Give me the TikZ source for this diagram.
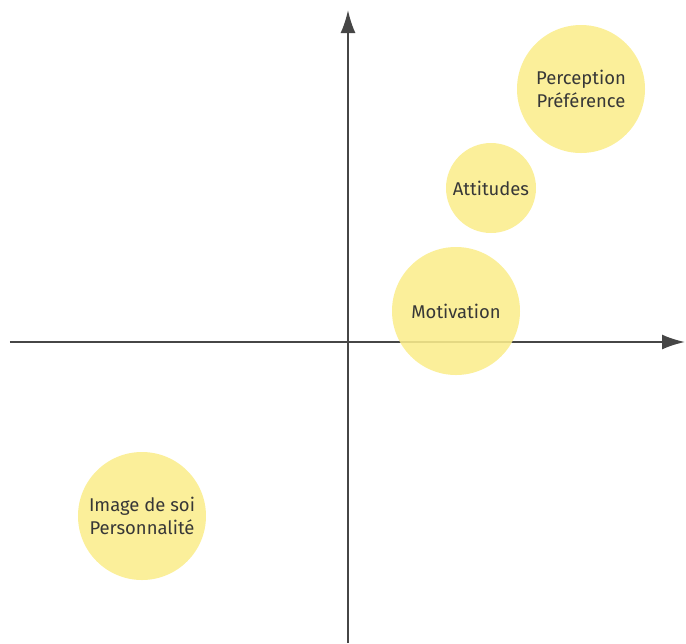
\documentclass[tikz,border=0pt]{standalone}
\usepackage{fontspec}
\setmainfont{Fira Sans}
\usepackage{tikz}
\usetikzlibrary{arrows.meta}

\definecolor{pale}{RGB}{250,237,140}
\definecolor{axisgray}{RGB}{70,70,70}
\definecolor{labelgray}{RGB}{55,55,55}

\tikzset{
  blob/.style={circle, fill=pale, fill opacity=0.88, text opacity=1,
    text=labelgray, align=center, inner sep=0pt,
    font=\fontsize{10.5}{13}\selectfont},
  axis/.style={draw=axisgray, line width=1.1pt,
    -{Latex[length=4.6mm,width=3mm]}}
}

\begin{document}
\begin{tikzpicture}[]
    \useasboundingbox (-6.96,-6.02) rectangle (6.76,6.84);
    % axis ends
    \coordinate (south) at (0,-6.02);
    \coordinate (north) at (0,6.64);
    \coordinate (west) at (-6.76,0);
    \coordinate (east) at (6.74,0);
    %axis
    \draw[axis] (south) -- (north);
    \draw[axis] (west) -- (east);
    % circles
    \node[blob, minimum size=2.56cm] (percep) at (4.66,5.06) {Perception\\Préférence};
    \node[blob, minimum size=1.8cm] (attit) at (2.86,3.08) {Attitudes};
    \node[blob, minimum size=2.56cm] (motiv) at (2.16,0.62) {Motivation};
    \node[blob, minimum size=2.56cm] (image) at (-4.12,-3.48) {Image de soi\\Personnalité};
  \end{tikzpicture}
\end{document}
